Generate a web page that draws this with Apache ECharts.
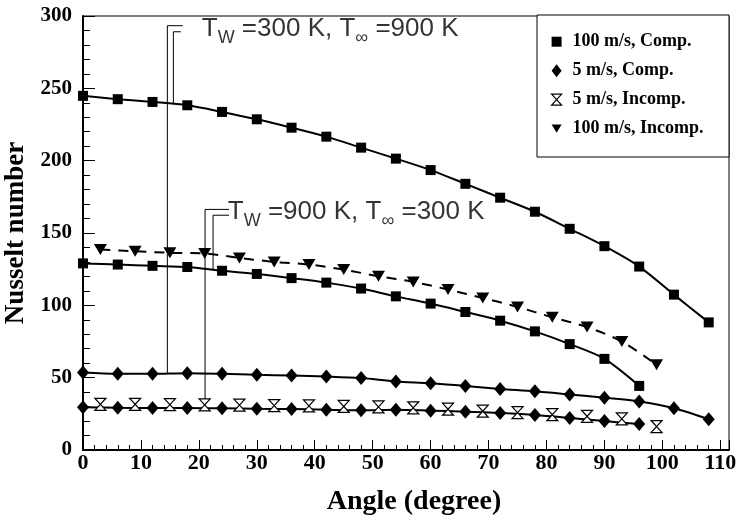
<!DOCTYPE html>
<html>
<head>
<meta charset="utf-8">
<script src="https://cdn.jsdelivr.net/npm/echarts@6/dist/echarts.min.js"></script>
<style>html,body{margin:0;padding:0;background:#fff}#c{width:738px;height:523px}</style>
</head>
<body>
<div id="c"></div>
<script>
// ---- data ----
const angleComp = [0, 6, 12, 18, 24, 30, 36, 42, 48, 54, 60, 66, 72, 78, 84, 90, 96, 102, 108];
const angleIncomp = [3, 9, 15, 21, 27, 33, 39, 45, 51, 57, 63, 69, 75, 81, 87, 93, 99];

// 100 m/s, Comp. (Tw=300 K, Tinf=900 K)
const comp100Tw300 = [244.8, 242.5, 240.6, 238.3, 233.7, 228.6, 222.8, 216.6, 209.0, 201.4, 193.5, 184.0, 174.4, 164.7, 152.9, 140.9, 126.8, 107.4, 88.2];
// 100 m/s, Comp. (Tw=900 K, Tinf=300 K)
const comp100Tw900 = [129.0, 128.2, 127.3, 126.5, 123.9, 121.7, 118.8, 115.7, 111.6, 106.2, 101.2, 95.4, 89.4, 82.0, 73.2, 63.0, 44.3];
// 100 m/s, Incomp.
const incomp100 = [138.6, 137.4, 136.3, 135.8, 132.8, 130.0, 128.2, 124.7, 120.1, 116.2, 110.9, 105.1, 98.9, 91.7, 85.0, 75.0, 58.9];
// 5 m/s, Comp. (Tw=300 K, Tinf=900 K)
const comp5Tw300 = [53.6, 52.7, 52.7, 53.1, 52.7, 52.0, 51.5, 50.8, 49.7, 47.3, 46.2, 44.2, 42.2, 40.6, 38.4, 36.1, 33.5, 28.9, 21.3];
// 5 m/s, Comp. (Tw=900 K, Tinf=300 K)
const comp5Tw900 = [29.5, 29.2, 29.0, 29.0, 28.8, 28.5, 28.3, 27.9, 27.4, 27.8, 27.2, 26.5, 25.5, 24.2, 22.2, 20.0, 17.9];
// 5 m/s, Incomp.
const incomp5 = [31.6, 31.6, 31.4, 31.2, 31.0, 30.7, 30.5, 30.1, 29.8, 29.2, 28.2, 26.8, 25.8, 24.4, 23.3, 21.5, 16.2];

const legendNames = ['100 m/s, Comp.', '5 m/s, Comp.', '5 m/s, Incomp.', '100 m/s, Incomp.'];
const xTicks = [0, 10, 20, 30, 40, 50, 60, 70, 80, 90, 100, 110];
const yTicks = [0, 50, 100, 150, 200, 250, 300];

// annotation brackets (data coordinates)
const bracket1a = [[17.2, 293.3], [14.56, 293.3], [14.56, 53.0]];
const bracket1b = [[16.9, 289.1], [15.6, 289.1], [15.6, 239.5]];
const bracket2a = [[25.2, 166.3], [21.07, 166.3], [21.07, 31.2]];
const bracket2b = [[25.2, 162.3], [22.45, 162.3], [22.45, 125.0]];
const note1 = { pos: [20.5, 291], text: '{m|T}{s|W}{m| =300 K, T}{s|\u221e}{m| =900 K}' };
const note2 = { pos: [25.0, 164.5], text: '{m|T}{s|W}{m| =900 K, T}{s|\u221e}{m| =300 K}' };

// ---- build ----
const pairs = (xs, ys) => ys.map((v, i) => [xs[i], v]);
const SERIF = '"Liberation Serif", "Times New Roman", serif';
const SANS = '"Liberation Sans", Arial, sans-serif';

const triDown = 'path://M0,0L12,0L6,10Z';
const hourglass = 'path://M0,0L10,0L0,11L10,11Z';
const squareIcon = 'path://M0,0L9,0L9,9L0,9Z';
const diamondIcon = 'path://M5,0L10,6.5L5,13L0,6.5Z';

function dataSeries(name, data, symbol, size, opts) {
  return Object.assign({
    type: 'line', name, data, symbol, symbolSize: size,
    smooth: 0.3, z: 5,
    itemStyle: { color: '#000' },
    lineStyle: { color: '#000', width: 2 },
    emphasis: { disabled: true }, silent: true, animation: false
  }, opts || {});
}
function bracket(d) {
  return { type: 'line', data: d, symbol: 'none', silent: true, animation: false, z: 4,
    lineStyle: { color: '#000', width: 1 }, emphasis: { disabled: true } };
}
const richStyle = {
  m: { fontFamily: SANS, fontSize: 26, lineHeight: 36, color: '#000' },
  s: { fontFamily: SANS, fontSize: 18, lineHeight: 18, verticalAlign: 'bottom', color: '#000' }
};
function note(n) {
  return { type: 'scatter', data: [n.pos], symbolSize: 0, silent: true, animation: false, z: 6,
    label: { show: true, position: 'right', distance: 0, formatter: n.text, rich: richStyle } };
}

const chart = echarts.init(document.getElementById('c'), null, { renderer: 'canvas' });
chart.setOption({
  animation: false,
  backgroundColor: '#fff',
  grid: { left: 83, right: 9, top: 16, bottom: 73, show: true, borderColor: '#000', borderWidth: 1,
    backgroundColor: 'transparent', containLabel: false, outerBoundsMode: 'none' },
  xAxis: {
    type: 'value', min: 0, max: 111.5, interval: 10,
    name: 'Angle (degree)', nameLocation: 'middle', nameGap: 38,
    nameTextStyle: { fontFamily: SERIF, fontWeight: 'bold', fontSize: 28, color: '#000', padding: [0, 0, 0, 16] },
    axisLine: { lineStyle: { color: '#000', width: 2 } },
    axisTick: { inside: true, length: 10, lineStyle: { color: '#000', width: 1 } },
    minorTick: { show: true, splitNumber: 5, length: 5, lineStyle: { color: '#000', width: 1 } },
    splitLine: { show: false },
    axisLabel: { fontFamily: SERIF, fontWeight: 'bold', fontSize: 22, color: '#000', margin: 2,
      showMaxLabel: false,
      formatter: v => (xTicks.indexOf(v) >= 0 ? String(v) : '') }
  },
  yAxis: {
    type: 'value', min: 0, max: 300, interval: 50,
    name: 'Nusselt number', nameLocation: 'middle', nameGap: 46,
    nameTextStyle: { fontFamily: SERIF, fontWeight: 'bold', fontSize: 27, color: '#000' },
    axisLine: { show: true, lineStyle: { color: '#000', width: 2 } },
    axisTick: { show: true, inside: true, length: 12, lineStyle: { color: '#000', width: 1 } },
    minorTick: { show: true, splitNumber: 5, length: 7, lineStyle: { color: '#000', width: 1 } },
    splitLine: { show: false },
    axisLabel: { fontFamily: SERIF, fontWeight: 'bold', fontSize: 21, color: '#000', margin: 11,
      formatter: v => (yTicks.indexOf(v) >= 0 ? String(v) : '') }
  },
  legend: {
    orient: 'vertical', left: 551, top: 32.7, padding: 0,
    itemWidth: 10, itemHeight: 13, itemGap: 11, selectedMode: false, z: 10,
    textStyle: { fontFamily: SERIF, fontWeight: 'bold', fontSize: 18, lineHeight: 18, color: '#000', padding: [0, 0, 0, 6] },
    data: [
      { name: legendNames[0], icon: squareIcon, itemStyle: { color: '#000' } },
      { name: legendNames[1], icon: diamondIcon, itemStyle: { color: '#000' } },
      { name: legendNames[2], icon: hourglass, itemStyle: { color: '#fff', borderColor: '#000', borderWidth: 1.2 } },
      { name: legendNames[3], icon: triDown, itemStyle: { color: '#000' } }
    ]
  },
  graphic: [
    { type: 'rect', z: 3, shape: { x: 537, y: 15, width: 192, height: 142 },
      style: { fill: '#fff', stroke: '#000', lineWidth: 1 } }
  ],
  series: [
    dataSeries(legendNames[0], pairs(angleComp, comp100Tw300), 'rect', 10),
    dataSeries(legendNames[0], pairs(angleComp, comp100Tw900), 'rect', 10),
    dataSeries(legendNames[3], pairs(angleIncomp, incomp100), triDown, [13, 11],
      { lineStyle: { color: '#000', width: 2, type: [10, 8] } }),
    dataSeries(legendNames[1], pairs(angleComp, comp5Tw300), 'diamond', [12, 14]),
    dataSeries(legendNames[1], pairs(angleComp, comp5Tw900), 'diamond', [12, 14]),
    dataSeries(legendNames[2], pairs(angleIncomp, incomp5), hourglass, [11, 12],
      { itemStyle: { color: '#fff', borderColor: '#000', borderWidth: 1.2 }, lineStyle: { width: 0, color: '#000' }, z: 6 }),
    bracket(bracket1a), bracket(bracket1b), bracket(bracket2a), bracket(bracket2b),
    note(note1), note(note2)
  ]
});
</script>
</body>
</html>
